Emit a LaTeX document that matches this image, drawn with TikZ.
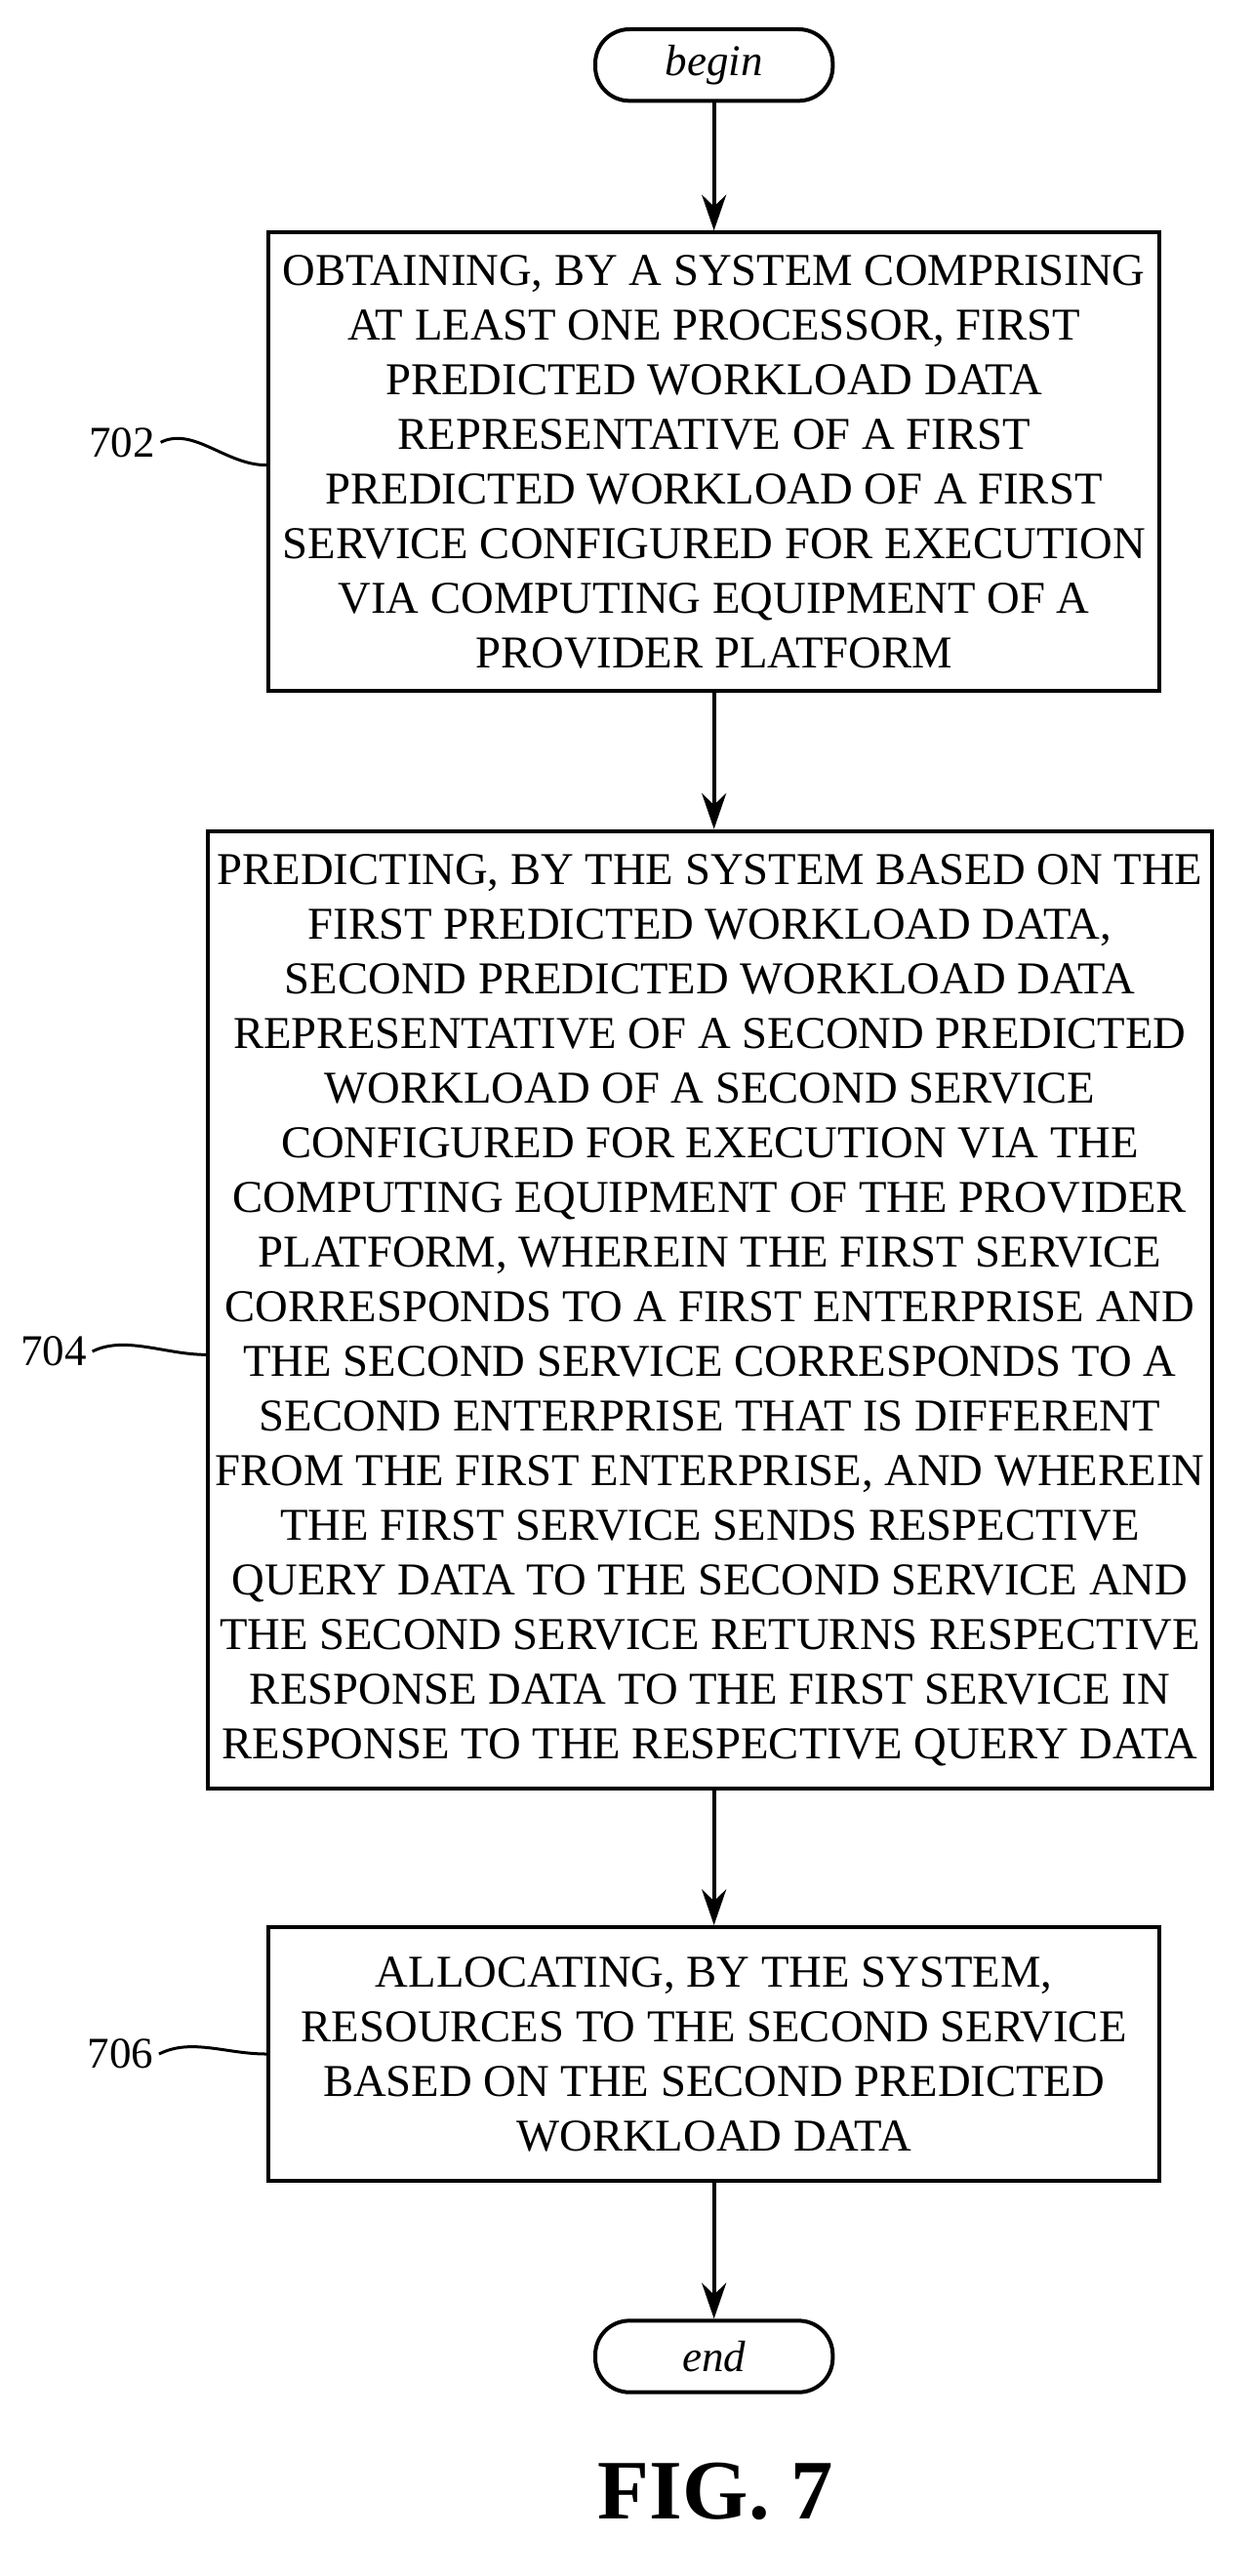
\documentclass[tikz,border=0pt]{standalone}
\usepackage{fontspec}
\setmainfont{Liberation Serif}
\usetikzlibrary{arrows.meta}
\begin{document}
\begin{tikzpicture}[x=1pt,y=-1pt,
  box/.style={draw,line width=2.4pt,align=center,font=\fontsize{28}{33.6}\selectfont,inner sep=0pt},
  term/.style={draw,line width=2.4pt,rounded corners=21pt,minimum width=146pt,minimum height=44pt,font=\fontsize{27}{30}\selectfont\itshape},
  arr/.style={line width=2.4pt,-{Stealth[length=22pt,width=15pt]}},
  lab/.style={font=\fontsize{27}{30}\selectfont},
  sq/.style={line width=1.8pt}]
\useasboundingbox (0,0) rectangle (770,1584);
\node[term] (begin) at (439,40) {begin};
\node[box,minimum width=548pt,minimum height=282pt] (b702) at (439,284) {OBTAINING, BY A SYSTEM COMPRISING\\AT LEAST ONE PROCESSOR, FIRST\\PREDICTED WORKLOAD DATA\\REPRESENTATIVE OF A FIRST\\PREDICTED WORKLOAD OF A FIRST\\SERVICE CONFIGURED FOR EXECUTION\\VIA COMPUTING EQUIPMENT OF A\\PROVIDER PLATFORM};
\node[box,minimum width=617pt,minimum height=589pt] (b704) at (436.5,805.5) {PREDICTING, BY THE SYSTEM BASED ON THE\\FIRST PREDICTED WORKLOAD DATA,\\SECOND PREDICTED WORKLOAD DATA\\REPRESENTATIVE OF A SECOND PREDICTED\\WORKLOAD OF A SECOND SERVICE\\CONFIGURED FOR EXECUTION VIA THE\\COMPUTING EQUIPMENT OF THE PROVIDER\\PLATFORM, WHEREIN THE FIRST SERVICE\\CORRESPONDS TO A FIRST ENTERPRISE AND\\THE SECOND SERVICE CORRESPONDS TO A\\SECOND ENTERPRISE THAT IS DIFFERENT\\FROM THE FIRST ENTERPRISE, AND WHEREIN\\THE FIRST SERVICE SENDS RESPECTIVE\\QUERY DATA TO THE SECOND SERVICE AND\\THE SECOND SERVICE RETURNS RESPECTIVE\\RESPONSE DATA TO THE FIRST SERVICE IN\\RESPONSE TO THE RESPECTIVE QUERY DATA};
\node[box,minimum width=548pt,minimum height=156pt] (b706) at (439,1263) {ALLOCATING, BY THE SYSTEM,\\RESOURCES TO THE SECOND SERVICE\\BASED ON THE SECOND PREDICTED\\WORKLOAD DATA};
\node[term] (end) at (439,1449) {end};
\node[font=\fontsize{52}{58}\selectfont\bfseries] (fig) at (440,1532) {FIG. 7};
\draw[arr] (begin) -- (b702);
\draw[arr] (b702) -- (b702.south |- b704.north);
\draw[arr] (b704.south -| b706) -- (b706);
\draw[arr] (b706) -- (end);
\node[lab] (l702) at (75,272) {702};
\node[lab] (l704) at (33,831) {704};
\node[lab] (l706) at (74,1263) {706};
\draw[sq] (l702.east) .. controls +(20,-10) and +(-25,0) .. (b702.west |- 0,286);
\draw[sq] (l704.east) .. controls +(20,-10) and +(-25,0) .. (b704.west |- 0,833);
\draw[sq] (l706.east) .. controls +(20,-10) and +(-25,0) .. (b706.west |- 0,1263);
\end{tikzpicture}
\end{document}
